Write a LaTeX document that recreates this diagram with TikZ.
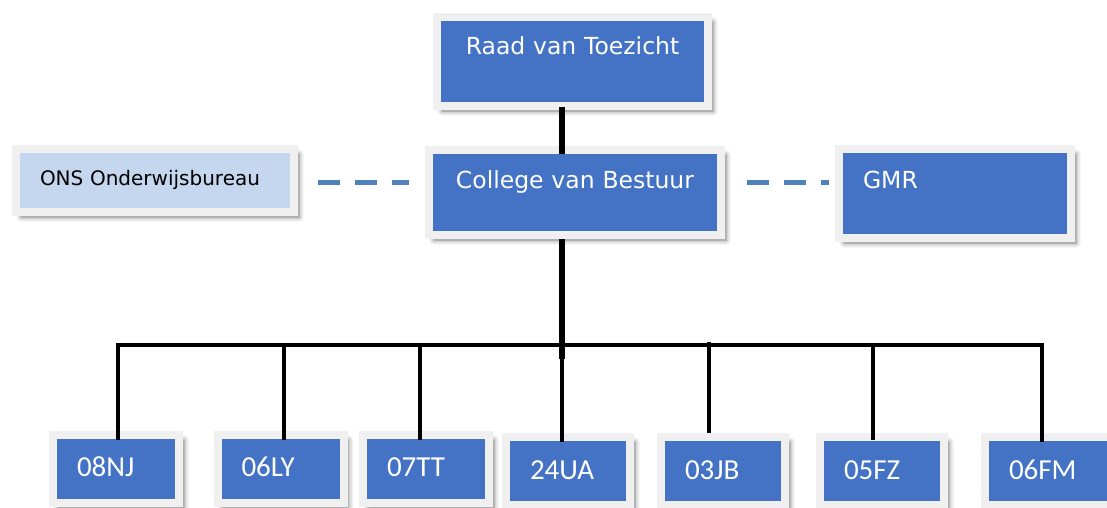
\documentclass[tikz,border=0pt]{standalone}
\usepackage{fontspec}
\setmainfont{DejaVu Sans}
\newfontfamily\calfont{Carlito}
\usetikzlibrary{shadows.blur}
\definecolor{boxblue}{RGB}{68,114,196}
\definecolor{lightbox}{RGB}{197,215,239}
\definecolor{framegray}{RGB}{240,240,240}
\definecolor{dashblue}{RGB}{79,129,189}
\tikzset{
  framed/.style={draw=framegray, line width=8pt, inner sep=0pt,
    blur shadow={shadow xshift=5pt, shadow yshift=-5pt, shadow blur radius=5pt, shadow opacity=55}},
  topbox/.style={framed, fill=boxblue, text=white, font=\fontsize{23.5}{28}\selectfont},
  sidebox/.style={framed, inner xsep=24pt, align=left},
  unitbox/.style={framed, fill=boxblue, text=white, inner xsep=24pt, align=left,
    text width=78pt, font=\calfont\fontsize{29}{34}\selectfont},
  rowa/.style={unitbox, text height=41pt, text depth=27pt},
  rowb/.style={unitbox, text height=42pt, text depth=26pt},
  trunk/.style={line width=6pt, black},
  bus/.style={line width=3.6pt, black},
  dashline/.style={line width=5pt, dashblue, dash pattern=on 22pt off 15pt}
}
\begin{document}
\begin{tikzpicture}[x=1pt, y=-1pt]
\useasboundingbox (0,0) rectangle (1107,507);
% top level
\node[topbox, text width=271pt, align=center, text height=37pt, text depth=52pt] (raad) at (572.5,61.5) {Raad van Toezicht};
\node[topbox, text width=292pt, align=center, text height=38pt, text depth=47pt] (cvb) at (575,192.5) {College van Bestuur};
\node[sidebox, fill=lightbox, text=black, text width=230pt, text height=36pt, text depth=27pt, font=\fontsize{20}{24}\selectfont] (ons) at (155,180.5) {ONS Onderwijsbureau};
\node[topbox, inner xsep=24pt, align=left, text width=184pt, text height=39pt, text depth=50pt] (gmr) at (955,193.5) {GMR};
% units
\node[rowa] (u1) at (116,469) {08NJ};
\node[rowa] (u2) at (280.5,469) {06LY};
\node[rowa] (u3) at (426,469) {07TT};
\node[rowb, text width=76pt] (u4) at (568,471) {24UA};
\node[rowb, text width=76pt] (u5) at (723,471) {03JB};
\node[rowb, text width=76pt] (u6) at (882,471) {05FZ};
\node[rowb] (u7) at (1048,471) {06FM};
% junctions
\coordinate (j1) at (118,345);
\coordinate (j2) at (284,345);
\coordinate (j3) at (420,345);
\coordinate (j4) at (562,345);
\coordinate (j5) at (709,345);
\coordinate (j6) at (873,345);
\coordinate (j7) at (1042,345);
\coordinate (trunkend) at (562,359);
\coordinate (dashy) at (0,182);
% connectors
\draw[trunk] ([yshift=3pt]raad.south -| j4) -- ([yshift=-8pt]cvb.north -| j4);
\draw[trunk] (cvb.south -| j4) -- (trunkend);
\draw[bus] ([yshift=-9pt]u1.north -| j1) -- (j1) -- (j7) -- ([yshift=-9pt]u7.north -| j7);
\draw[bus] (j2) -- ([yshift=-9pt]u2.north -| j2);
\draw[bus] (j3) -- ([yshift=-9pt]u3.north -| j3);
\draw[bus] (j4) -- ([yshift=-9pt]u4.north -| j4);
\draw[bus] ([yshift=3pt]j5) -- (u5.north -| j5);
\draw[bus] (j6) -- ([yshift=-7pt]u6.north -| j6);
\draw[dashline, shorten <=20pt, shorten >=16pt] (ons.east |- dashy) -- (cvb.west |- dashy);
\draw[dashline, shorten <=22pt, shorten >=6pt] (cvb.east |- dashy) -- (gmr.west |- dashy);
\end{tikzpicture}
\end{document}
